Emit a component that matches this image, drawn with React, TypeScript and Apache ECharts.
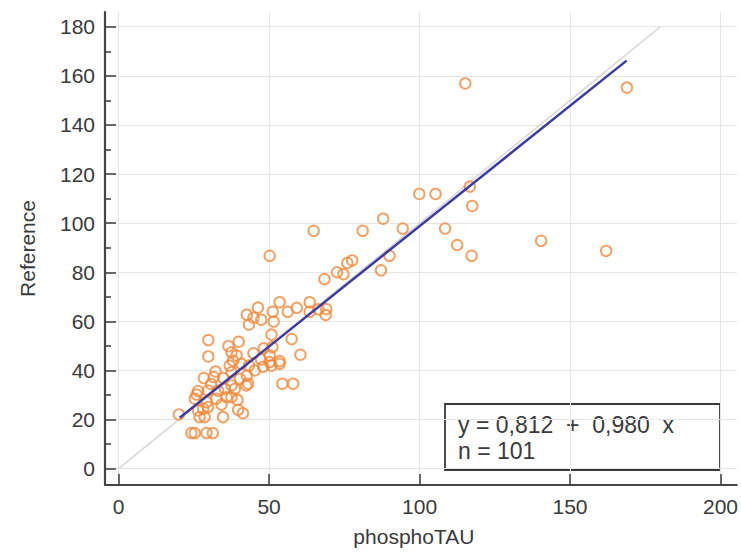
import React, { useEffect, useRef } from "react";
import * as echarts from "echarts";

// Data (x = phosphoTAU, y = Reference)
const phosphoTAU = [
  115.2, 168.9, 116.7, 99.9, 105.3, 117.5, 87.9, 81.1, 64.8, 94.4,
  108.5, 112.5, 117.3, 140.4, 162.0, 90.0, 77.6, 76.0, 87.2, 72.6,
  74.7, 68.4, 50.2,
  53.5, 63.5, 46.3, 51.2, 56.2, 59.2, 63.5, 66.4, 69.0, 68.8,
  42.6, 44.8, 47.4, 43.3, 51.5, 50.8, 57.5, 29.8, 39.9, 36.5,
  29.8, 37.5, 39.2, 44.8, 38.0, 40.8, 43.3, 36.9, 48.2, 51.1,
  60.4, 53.5, 50.2, 50.2, 48.0, 45.2, 50.8, 53.5,
  32.2, 37.5, 28.3, 34.7, 40.3, 43.0, 37.5, 54.4, 58.0, 42.6,
  26.4, 29.7, 33.0, 35.3, 38.6, 42.4, 25.9, 31.6,
  32.5, 29.2, 35.9, 28.1, 26.4, 25.3, 20.0, 26.9, 28.6, 34.7,
  39.7, 41.3, 24.2, 25.3, 29.2, 31.3, 37.5, 34.2, 29.7,
  47.3, 30.7, 39.5,
];
const reference = [
  156.9, 155.2, 114.9, 111.9, 111.9, 107.0, 101.8, 96.9, 96.9, 97.8,
  97.8, 91.1, 86.7, 92.8, 88.7, 86.7, 84.8, 83.8, 80.8, 80.0,
  79.2, 77.2, 86.7,
  67.8, 67.8, 65.6, 63.9, 63.9, 65.5, 63.9, 64.9, 65.0, 62.6,
  62.7, 61.5, 60.7, 58.7, 59.9, 54.6, 52.8, 52.4, 51.7, 49.9,
  45.7, 47.4, 46.1, 47.0, 44.0, 42.7, 42.0, 42.0, 49.0, 49.5,
  46.4, 43.8, 46.1, 43.4, 41.5, 40.0, 42.0, 42.7,
  39.6, 39.3, 36.9, 36.9, 36.6, 34.6, 33.9, 34.6, 34.6, 37.9,
  31.6, 31.8, 31.8, 32.5, 32.5, 33.9, 30.2, 37.3,
  28.5, 27.1, 29.1, 24.4, 23.7, 28.5, 22.1, 21.0, 21.0, 21.0,
  24.0, 22.6, 14.5, 14.5, 14.5, 14.5, 29.1, 26.1, 25.1,
  44.5, 34.5, 28.0,
];

const xTickValues = [0, 50, 100, 150, 200];
const yTickValues = [0, 20, 40, 60, 80, 100, 120, 140, 160, 180];
const yMinorTickValues = [10, 30, 50, 70, 90, 110, 130, 150, 170];

const regressionLine = [
  [20.3, 20.7],
  [168.8, 166.2],
];
const identityLine = [
  [0, 0],
  [180, 180],
];
const equationText = "y = 0,812  +  0,980  x";
const nText = "n = 101";

export default function App() {
  const ref = useRef<HTMLDivElement>(null);

  useEffect(() => {
    if (!ref.current) return;
    const chart = echarts.init(ref.current, null, { renderer: "svg" });
    const font = "'Liberation Sans', Arial, sans-serif";
    const axisColor = "#454545";
    const textColor = "#3a3a3a";
    const gridColor = "#e5e5e5";

    const points = phosphoTAU.map((x, i) => [x, reference[i]]);

    chart.setOption({
      animation: false,
      backgroundColor: "#ffffff",
      grid: { left: 105, right: 3, top: 12, bottom: 65, containLabel: false },
      xAxis: [
        {
          type: "value",
          min: -4.54,
          max: 205.4,
          name: "phosphoTAU",
          nameLocation: "middle",
          nameGap: 41,
          nameTextStyle: {
            fontFamily: font,
            fontSize: 21,
            color: textColor,
            padding: [0, 14, 0, 0],
          },
          axisLine: { show: true, onZero: false, lineStyle: { color: axisColor, width: 2.2 } },
          axisTick: {
            show: true,
            inside: true,
            length: 11,
            customValues: xTickValues,
            lineStyle: { color: axisColor, width: 1.6 },
          },
          axisLabel: {
            customValues: xTickValues,
            fontFamily: font,
            fontSize: 21,
            color: textColor,
            margin: 11,
          },
          splitLine: { show: true, lineStyle: { color: gridColor, width: 1 } },
        },
      ],
      yAxis: [
        {
          type: "value",
          min: -6.65,
          max: 186,
          position: "left",
          name: "Reference",
          nameLocation: "middle",
          nameGap: 67,
          nameRotate: 90,
          nameTextStyle: { fontFamily: font, fontSize: 21, color: textColor },
          axisLine: { show: true, onZero: false, lineStyle: { color: axisColor, width: 2.2 } },
          axisTick: {
            show: true,
            inside: true,
            length: 11,
            customValues: yTickValues,
            lineStyle: { color: axisColor, width: 1.6 },
          },
          axisLabel: {
            customValues: yTickValues,
            fontFamily: font,
            fontSize: 21,
            color: textColor,
            margin: 10,
          },
          splitLine: { show: true, lineStyle: { color: gridColor, width: 1 } },
        },
        {
          type: "value",
          min: -6.65,
          max: 186,
          position: "left",
          offset: 0,
          axisLine: { show: false, onZero: false },
          axisTick: {
            show: true,
            inside: true,
            length: 6,
            customValues: yMinorTickValues,
            lineStyle: { color: axisColor, width: 1.6 },
          },
          axisLabel: { show: false },
          splitLine: { show: false },
        },
      ],
      series: [
        {
          type: "line",
          data: identityLine,
          symbol: "none",
          silent: true,
          lineStyle: { color: "#dbd3db", width: 1.5 },
          z: 1,
        },
        {
          type: "scatter",
          data: points,
          symbol: "circle",
          symbolSize: 10.5,
          itemStyle: {
            color: "rgba(255,255,255,0)",
            borderColor: "#f0883a",
            borderWidth: 1.9,
          },
          z: 2,
        },
        {
          type: "line",
          data: regressionLine,
          symbol: "none",
          silent: true,
          lineStyle: { color: "#3c3ca6", width: 2.5 },
          z: 3,
        },
      ],
      graphic: [
        {
          type: "group",
          z: 100,
          children: [
            {
              type: "rect",
              shape: { x: 445, y: 404, width: 275, height: 66 },
              style: { fill: "#ffffff", stroke: "#3a3a3a", lineWidth: 1.8 },
            },
            {
              type: "text",
              x: 458,
              y: 425,
              style: {
                text: equationText,
                fontFamily: font,
                fontSize: 23,
                fill: textColor,
                verticalAlign: "middle",
                align: "left",
              },
            },
            {
              type: "text",
              x: 458,
              y: 451,
              style: {
                text: nText,
                fontFamily: font,
                fontSize: 23,
                fill: textColor,
                verticalAlign: "middle",
                align: "left",
              },
            },
          ],
        },
      ],
    });

    return () => {
      chart.dispose();
    };
  }, []);

  return (
    <div
      ref={ref}
      style={{ position: "fixed", left: 0, top: 0, width: 741, height: 552, background: "#fff" }}
    />
  );
}
